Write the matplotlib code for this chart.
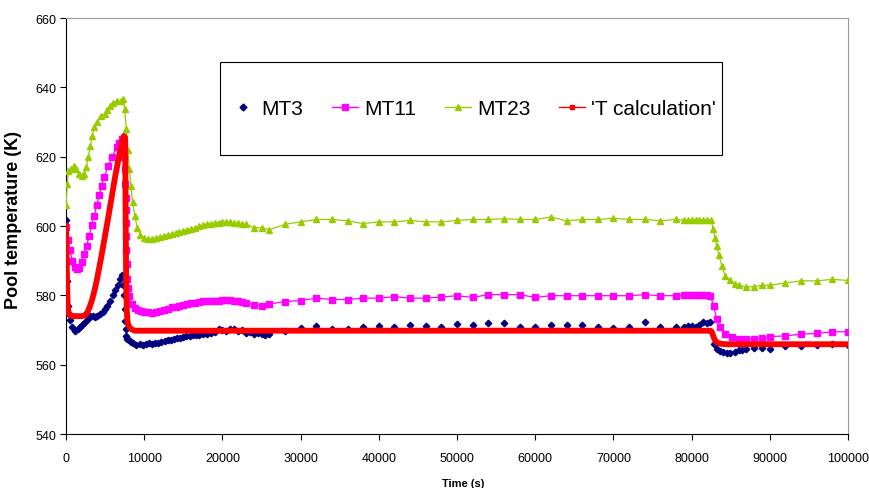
import matplotlib
matplotlib.use("Agg")
import matplotlib.pyplot as plt
from matplotlib.lines import Line2D
from matplotlib.patches import Rectangle

plt.rcParams['font.family'] = ['Liberation Sans', 'DejaVu Sans']

# ---- data ----
t_mt3 = [0, 100, 200, 350, 500, 800, 1150, 1500, 1800, 2100,
         2430, 2750, 3070, 3400, 3700, 4000, 4350, 4700, 5000, 5300,
         5630, 5950, 6270, 6600, 6900, 7120, 7330, 7450, 7520, 7580,
         7650, 7720, 7800, 8000, 8300, 8600, 9000, 9400, 9800, 10200,
         10600, 11000, 11400, 11800, 12200, 12600, 13000, 13400, 13800, 14200,
         14600, 15000, 15400, 15800, 16200, 16600, 17000, 17500, 18000, 18500,
         19000, 19500, 20000, 20500, 21000, 21500, 22000, 22500, 23000, 23500,
         24000, 24500, 25000, 25500, 26000, 28000, 30000, 32000, 34000, 36000,
         38000, 40000, 42000, 44000, 46000, 48000, 50000, 52000, 54000, 56000,
         58000, 60000, 62000, 64000, 66000, 68000, 70000, 72000, 74000, 76000,
         78000, 79000, 79500, 80000, 80500, 81000, 81500, 82000, 82400, 82800,
         83200, 83600, 84060, 84500, 84900, 85500, 86000, 86500, 87000, 88000,
         89000, 90000, 92000, 94000, 96000, 98000, 100000]
T_mt3 = [601.8, 584, 577, 574.5, 573, 571, 569.8, 570.3, 570.8, 571.5,
         572.3, 573.3, 574, 574, 573.7, 574, 574.6, 575.2, 576, 577,
         578.5, 580, 581.4, 583, 584.7, 586, 583, 580, 576, 572.7,
         570.3, 568.4, 567.5, 567, 566.6, 566.3, 565.7, 565.9, 565.8, 566,
         566.2, 566, 566.2, 566.3, 566.5, 566.8, 567, 567.2, 567.4, 567.6,
         567.8, 568, 568.2, 568.4, 568.5, 568.5, 568.7, 568.8, 568.8, 569.2,
         569.5, 570.2, 570, 569.8, 570.3, 570.2, 569.8, 570, 569.1, 569.3,
         568.8, 569.2, 568.8, 568.5, 568.8, 569.8, 570.5, 571.2, 570.4, 570.4,
         570.8, 571.2, 570.8, 571.4, 571.2, 570.9, 571.8, 571.5, 571.9, 571.9,
         570.9, 570.9, 571.5, 571.5, 571.5, 570.9, 570.5, 570.9, 572.2, 570.9,
         570.9, 571, 571.2, 571.2, 571, 571.5, 572.2, 572, 572.2, 566,
         564.5, 564, 563.6, 563.5, 563.4, 563.8, 564.1, 564.3, 564.4, 564.7,
         564.7, 564.4, 565.5, 565.5, 565.6, 566, 565.7]

t_mt11 = [0, 250, 500, 800, 1100, 1360, 1700, 2000, 2300, 2650,
          2950, 3280, 3600, 3920, 4250, 4560, 4900, 5400, 5900, 6480,
          6800, 7120, 7350, 7450, 7520, 7580, 7620, 7650, 7680, 7700,
          7720, 7740, 7780, 7880, 8000, 8400, 8800, 9200, 9600, 10000,
          10500, 11000, 11500, 12000, 12500, 13000, 13500, 14000, 14500, 15000,
          15500, 16000, 16500, 17000, 17500, 18000, 18500, 19000, 19500, 20000,
          20500, 21000, 21500, 22000, 22500, 23000, 24000, 25000, 26000, 28000,
          30000, 32000, 34000, 36000, 38000, 40000, 42000, 44000, 46000, 48000,
          50000, 52000, 54000, 56000, 58000, 60000, 62000, 64000, 66000, 68000,
          70000, 72000, 74000, 76000, 78000, 79000, 79500, 80000, 80500, 81000,
          81500, 82000, 82400, 82800, 83200, 83650, 84300, 85100, 86000, 87000,
          88000, 89000, 90000, 92000, 94000, 96000, 98000, 100000]
T_mt11 = [599.7, 596, 593, 590, 588.2, 587.6, 588, 589.6, 591.8, 594.3,
          597.2, 600.2, 603, 606, 609, 611.6, 614.2, 617.4, 620, 622.7,
          624, 625, 624, 620, 616.4, 612, 608, 604.5, 601, 597,
          593, 589, 584.7, 582, 579.9, 577.5, 576.4, 575.8, 575.5, 575.3,
          575.1, 575, 575.3, 575.6, 575.9, 576.2, 576.5, 576.7, 577, 577.2,
          577.4, 577.7, 577.9, 578.1, 578.3, 578.4, 578.4, 578.5, 578.5, 578.6,
          578.6, 578.6, 578.5, 578.3, 578, 577.7, 577.3, 577, 577.5, 578.2,
          578.5, 579.2, 578.8, 578.8, 579.2, 579.2, 579.6, 579.2, 579.2, 579.5,
          579.9, 579.4, 580.2, 580.2, 580.2, 579.4, 579.9, 579.9, 579.9, 579.9,
          579.9, 579.9, 580.2, 579.9, 579.9, 580.2, 580.2, 580.1, 580, 580,
          580, 580, 579.9, 577, 573.2, 570.8, 568.8, 567.9, 567.4, 567.4,
          567.4, 567.6, 568.1, 568.3, 568.8, 569, 569.5, 569.5]

t_mt23 = [0, 150, 300, 600, 1000, 1300, 1600, 2000, 2300, 2600,
          2850, 3100, 3350, 3600, 4000, 4500, 5000, 5300, 5600, 6000,
          6500, 7000, 7300, 7500, 7700, 7900, 8100, 8300, 8500, 8800,
          9100, 9500, 10000, 10500, 11000, 11500, 12000, 12500, 13000, 13500,
          14000, 14500, 15000, 15500, 16000, 16500, 17000, 17500, 18000, 18500,
          19000, 19500, 20000, 20500, 21000, 21500, 22000, 22500, 23000, 24000,
          25000, 26000, 28000, 30000, 32000, 34000, 36000, 38000, 40000, 42000,
          44000, 46000, 48000, 50000, 52000, 54000, 56000, 58000, 60000, 62000,
          64000, 66000, 68000, 70000, 72000, 74000, 76000, 78000, 79000, 79500,
          80000, 80500, 81000, 81500, 82000, 82500, 82760, 83000, 83200, 83500,
          83850, 84300, 84900, 85500, 86000, 87000, 88000, 89000, 90000, 92000,
          94000, 96000, 98000, 100000]
T_mt23 = [606, 612, 616, 616.5, 617.3, 616.5, 615, 614.4, 615, 617,
          620, 623, 626, 628.5, 630, 631.7, 632.3, 633.5, 634.6, 635.6,
          636, 636, 636.6, 633.7, 628, 622, 616.4, 611.5, 607, 603,
          599.5, 597.5, 596.5, 596.2, 596.3, 596.6, 596.8, 597.1, 597.4, 597.7,
          598, 598.3, 598.6, 598.9, 599.2, 599.5, 599.9, 600.2, 600.5, 600.7,
          600.9, 601, 601.1, 601.2, 601.1, 600.9, 600.8, 600.6, 600.5, 599.5,
          599.5, 598.9, 600.5, 601.2, 601.9, 601.9, 601.5, 600.7, 601.2, 601.2,
          601.6, 601.2, 601.2, 601.6, 601.9, 601.9, 602.1, 601.9, 601.9, 602.6,
          601.5, 601.9, 601.9, 602.2, 601.9, 601.9, 601.5, 601.9, 601.7, 601.7,
          601.8, 601.7, 601.8, 601.8, 601.8, 601.8, 599, 596.5, 594.3, 591.5,
          588.5, 585.7, 584.3, 583.2, 582.9, 582.4, 582.5, 582.9, 582.9, 583.6,
          584.2, 584.2, 584.6, 584.3]

t_calc = [0, 30, 60, 90, 120, 160, 200, 260, 350, 500,
          1000, 1500, 2000, 2400, 2700, 3000, 3300, 3600, 3900, 4200,
          4500, 4800, 5100, 5400, 5700, 6000, 6300, 6600, 6900, 7200,
          7400, 7550, 7570, 7590, 7610, 7630, 7650, 7670, 7690, 7720,
          7760, 7820, 7900, 8100, 8400, 8800, 82400, 82600, 82800, 83000,
          83300, 83800, 84500, 100000]
T_calc = [600, 597, 593, 589, 585, 581, 578, 576, 574.8, 574.2,
          574, 574, 574, 574.2, 575, 576.5, 578.5, 581, 584, 587.5,
          591, 594.8, 598.7, 602.5, 606.5, 610.5, 614.5, 618, 621.5, 624.5,
          626, 625.5, 620, 614, 608, 602, 596, 590, 585, 580,
          576, 573.5, 572, 570.8, 570.2, 569.8, 569.8, 569.4, 568, 567,
          566.3, 566, 565.9, 565.9]

labels = ["MT3", "MT11", "MT23", "'T calculation'"]
colors = ["#000080", "#FF00FF", "#99CC00", "#FF0000"]

fig = plt.figure(figsize=(8.69, 4.89), dpi=100)
ax = fig.add_axes([0.0760, 0.1104, 0.8999, 0.8507])

ax.plot(t_mt3, T_mt3, ls="none", marker="D", ms=3.3, color=colors[0], zorder=2)
ax.plot(t_mt11, T_mt11, lw=0.9, marker="s", ms=4.4, color=colors[1], zorder=3)
ax.plot(t_mt23, T_mt23, lw=0.9, marker="^", ms=5, color=colors[2], zorder=4)
ax.plot(t_calc, T_calc, lw=4.2, color=colors[3], zorder=5)

ax.set_xlim(0, 100000)
ax.set_ylim(540, 660)
ax.set_xticks(range(0, 100001, 10000))
ax.set_yticks(range(540, 661, 20))
ax.tick_params(axis="both", direction="out", length=4, width=0.8, labelsize=9)
ax.tick_params(axis="x", pad=9)
ax.tick_params(axis="y", pad=3)

for s in ["left", "bottom"]:
    ax.spines[s].set_color("black")
    ax.spines[s].set_linewidth(0.8)
for s in ["top", "right"]:
    ax.spines[s].set_color("#999999")
    ax.spines[s].set_linewidth(0.8)

ax.set_ylabel("Pool temperature (K)", fontsize=13, fontweight="bold")
ax.yaxis.set_label_coords(-0.056, 0.517)
ax.set_xlabel("Time (s)", fontsize=8, fontweight="bold")
ax.xaxis.set_label_coords(0.508, -0.105)

# legend box + entries
ax.add_patch(Rectangle((0.197, 0.671), 0.642, 0.223, transform=ax.transAxes,
                       facecolor="white", edgecolor="black", lw=0.8, zorder=6))
handles = [
    Line2D([], [], ls="none", marker="D", ms=3.5, color=colors[0]),
    Line2D([], [], lw=1, marker="s", ms=4.5, color=colors[1]),
    Line2D([], [], lw=1, marker="^", ms=5, color=colors[2]),
    Line2D([], [], lw=1, marker="s", ms=3.5, color=colors[3]),
]
leg = ax.legend(handles, labels, loc="center", bbox_to_anchor=(0.52, 0.783),
                ncol=4, frameon=False, fontsize=15, handlelength=1.25,
                handletextpad=0.27, columnspacing=1.4, borderpad=0)
leg.set_zorder(7)

fig.savefig("out.png", dpi=100)
